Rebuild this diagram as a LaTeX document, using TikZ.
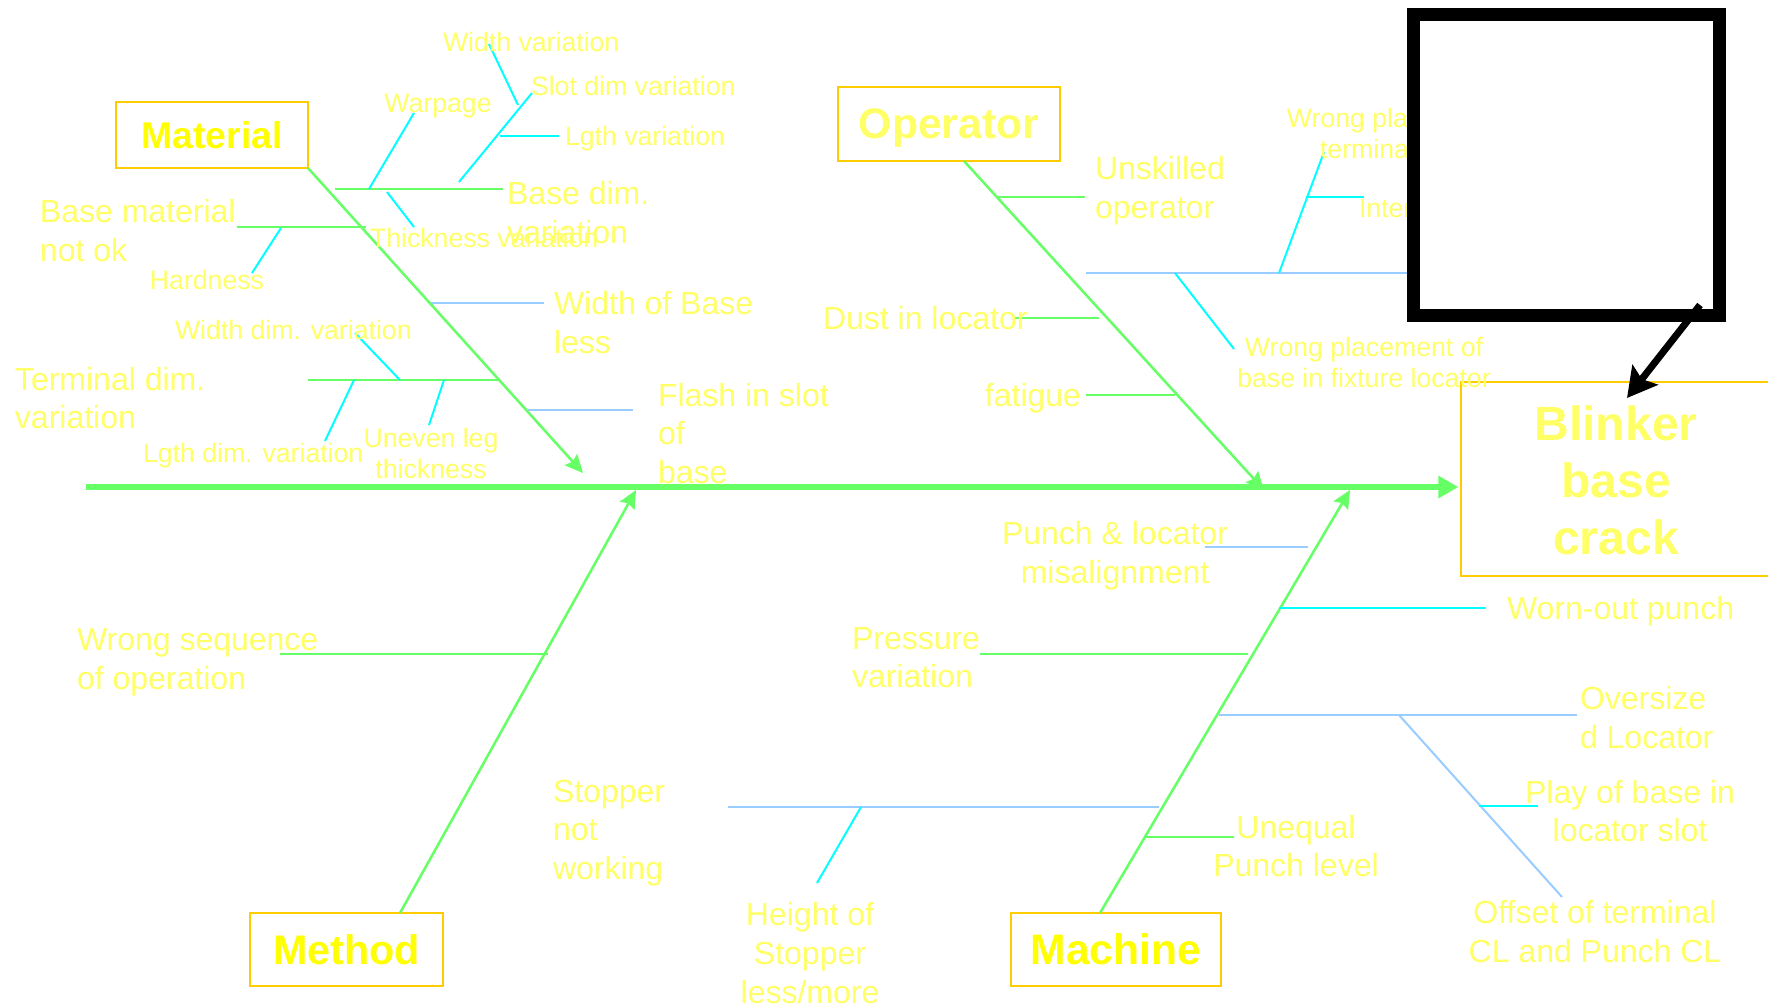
\documentclass[tikz,border=0pt]{standalone}
\usepackage{fontspec}
\setmainfont{Liberation Sans}
\usetikzlibrary{arrows.meta,calc}

\definecolor{labelyellow}{HTML}{FFFF66}
\definecolor{titleyellow}{HTML}{FFFF00}
\definecolor{frameorange}{HTML}{FFCC00}
\definecolor{bonegreen}{HTML}{66FF66}
\definecolor{subcyan}{HTML}{00FFFF}
\definecolor{paleblue}{HTML}{99CCFF}

\tikzset{
  catbox/.style={draw=frameorange, line width=1.5pt, inner sep=0pt, outer sep=0pt,
    text=titleyellow, text depth=0pt, font=\bfseries\fontsize{32}{36}\selectfont},
  effectbox/.style={draw=frameorange, line width=1.5pt, inner sep=0pt, outer sep=0pt},
  efftext/.style={text=labelyellow, align=center, inner sep=0pt,
    font=\bfseries\fontsize{36}{42.75}\selectfont},
  notebox/.style={draw=black, fill=white, line width=9.75pt, inner sep=0pt, outer sep=0pt},
  bigtxt/.style={text=labelyellow, inner sep=0pt, outer sep=0pt,
    font=\fontsize{24}{29}\selectfont},
  smalltxt/.style={text=labelyellow, inner sep=0pt, outer sep=0pt,
    font=\fontsize{20}{23.25}\selectfont},
  spine/.style={draw=bonegreen, line width=4.5pt, -{Triangle[length=15pt,width=16pt]}},
  bone/.style={draw=bonegreen, line width=1.9pt,
    -{Stealth[length=13.5pt,width=12.5pt,inset=2pt]}},
  greenrib/.style={draw=bonegreen, line width=1.5pt},
  bluerib/.style={draw=paleblue, line width=1.5pt},
  cyanrib/.style={draw=subcyan, line width=1.5pt},
  pointer/.style={draw=black, line width=5.25pt,
    -{Stealth[length=22pt,width=24pt,inset=4pt]}}
}

\begin{document}
\begin{tikzpicture}[x=0.75pt,y=-0.75pt]
\clip (0,0) rectangle (1768,1006);
\fill[white] (0,0) rectangle (1768,1006);

% ---------- category boxes and effect ----------
\node[catbox, font=\bfseries\fontsize{28}{32}\selectfont,
      minimum width=144pt, minimum height=49.5pt] (material) at (212,135) {Material};
\node[catbox, text=labelyellow, minimum width=166.5pt, minimum height=55.5pt]
      (operator) at (949,124) {Operator};
\node[catbox, font=\bfseries\fontsize{31}{35}\selectfont,
      minimum width=144.75pt, minimum height=54.75pt] (method) at (346.5,949.5) {Method};
\node[catbox, minimum width=157.5pt, minimum height=54.75pt]
      (machine) at (1116,949.5) {Machine};

\node[effectbox, minimum width=254.25pt, minimum height=145.5pt] (effect) at (1630.5,479) {};
\node[efftext] (effecttext) at (1616,480) {Blinker\\base\\crack};

% ---------- spine and main bones ----------
\coordinate (spineStart) at (86,487);
\coordinate (matTip) at (583,473);
\coordinate (opTip) at (1264,490);
\coordinate (metTip) at (636,490);
\coordinate (macTip) at (1350,490);

\draw[spine, shorten >=2pt] (spineStart) -- (spineStart -| effect.west);
\draw[bone] (material.south east) -- (matTip);
\draw[bone] ($(operator.south)+(15,0)$) -- (opTip);
\draw[bone] ($(method.north)+(53.5,0)$) -- (metTip);
\draw[bone] ($(machine.north)+(-16,0)$) -- (macTip);

% ---------- Material branch ----------
\coordinate (bdA) at (335,189);   \coordinate (bdB) at (503,189);
\coordinate (wpA) at (369,189);   \coordinate (wpB) at (414,113);
\coordinate (thA) at (387,192);   \coordinate (thB) at (414,227);
\coordinate (slA) at (459,182);   \coordinate (slB) at (532,93);
\coordinate (wvA) at (489,44);    \coordinate (wvB) at (518,105);
\coordinate (lvA) at (500,136);   \coordinate (lvB) at (559,136);
\coordinate (bmA) at (237,227);   \coordinate (bmB) at (366,227);
\coordinate (hdA) at (281,228);   \coordinate (hdB) at (252,273);
\coordinate (wbA) at (431,303);   \coordinate (wbB) at (544,303);
\coordinate (tdA) at (308,380);   \coordinate (tdB) at (500,380);
\coordinate (wdA) at (400,380);   \coordinate (wdB) at (355,333);
\coordinate (ldA) at (354,380);   \coordinate (ldB) at (325,441);
\coordinate (ulA) at (444,380);   \coordinate (ulB) at (429,425);
\coordinate (fsA) at (528,410);   \coordinate (fsB) at (633,410);

\draw[greenrib] (bdA) -- (bdB);
\draw[cyanrib] (wpA) -- (wpB);
\draw[cyanrib] (thA) -- (thB);
\draw[cyanrib] (slA) -- (slB);
\draw[cyanrib] (wvA) -- (wvB);
\draw[cyanrib] (lvA) -- (lvB);
\draw[greenrib] (bmA) -- (bmB);
\draw[cyanrib] (hdA) -- (hdB);
\draw[bluerib] (wbA) -- (wbB);
\draw[greenrib] (tdA) -- (tdB);
\draw[cyanrib] (wdA) -- (wdB);
\draw[cyanrib] (ldA) -- (ldB);
\draw[cyanrib] (ulA) -- (ulB);
\draw[bluerib] (fsA) -- (fsB);

\node[bigtxt, anchor=west, align=left] (tBaseDim) at (507,212.5) {Base dim.\\variation};
\node[smalltxt] (tWarp) at (438,106) {Warpage};
\node[smalltxt, anchor=west] (tThick) at (370,238) {Thickness variation};
\node[smalltxt, anchor=west] (tSlot) at (531,86) {Slot dim variation};
\node[smalltxt, anchor=west] (tWidthV) at (443,42) {Width variation};
\node[smalltxt, anchor=west] (tLgthV) at (565,139) {Lgth variation};
\node[bigtxt, anchor=west, align=left] (tBaseMat) at (40,230.5) {Base material\\not ok};
\node[smalltxt] (tHard) at (207,280) {Hardness};
\node[bigtxt, anchor=west, align=left] (tWidthBase) at (554,322.5) {Width of Base\\less};
\node[bigtxt, anchor=west, align=left] (tTermDim) at (15,398) {Terminal dim.\\variation};
\node[smalltxt, anchor=west] (tWidthDim) at (175,330) {Width dim. variation};
\node[smalltxt, anchor=west] (tLgthDim) at (143,456) {Lgth dim. variation};
\node[smalltxt, align=center] (tUneven) at (431,453) {Uneven leg\\thickness};
\node[bigtxt, anchor=west, align=left] (tFlash) at (658,433.5) {Flash in slot\\of\\base};

% ---------- Method branch ----------
\coordinate (wsA) at (280,654);   \coordinate (wsB) at (548,654);
\draw[greenrib] (wsA) -- (wsB);
\node[bigtxt, anchor=west, align=left] (tWrongSeq) at (77,662) {Wrong sequence\\of operation};

% ---------- Operator branch ----------
\coordinate (usA) at (998,197);   \coordinate (usB) at (1085,197);
\coordinate (duA) at (1014,318);  \coordinate (duB) at (1099,318);
\coordinate (faA) at (1086,395);  \coordinate (faB) at (1175,395);
\coordinate (plA) at (1086,273);  \coordinate (plB) at (1500,273);
\coordinate (pbA) at (1175,273);  \coordinate (pbB) at (1234,349);
\coordinate (ptA) at (1279,273);  \coordinate (ptB) at (1324,152);
\coordinate (inA) at (1306,197);  \coordinate (inB) at (1364,197);

\draw[greenrib] (usA) -- (usB);
\draw[greenrib] (duA) -- (duB);
\draw[greenrib] (faA) -- (faB);
\draw[bluerib] (plA) -- (plB);
\draw[cyanrib] (pbA) -- (pbB);
\draw[cyanrib] (ptA) -- (ptB);
\draw[cyanrib] (inA) -- (inB);

\node[bigtxt, anchor=west, align=left] (tUnskilled) at (1095,191) {Unskilled\\operator};
\node[bigtxt, anchor=west] (tDust) at (823,318) {Dust in locator};
\node[bigtxt, anchor=east] (tFatigue) at (1081,398) {fatigue};
\node[smalltxt, align=center] (tPlaceBase) at (1364,362.5) {Wrong placement of\\base in fixture locator};
\node[smalltxt, align=center] (tPlaceTerm) at (1406,133) {Wrong placement of\\terminal in slot};
\node[smalltxt, anchor=west] (tInter) at (1359,208) {Interference};

% ---------- Machine branch ----------
\coordinate (plmA) at (1205,547); \coordinate (plmB) at (1308,547);
\coordinate (woA) at (1279,608);  \coordinate (woB) at (1486,608);
\coordinate (prA) at (980,654);   \coordinate (prB) at (1248,654);
\coordinate (ovA) at (1219,715);  \coordinate (ovB) at (1577,715);
\coordinate (ofA) at (1399,715);  \coordinate (ofB) at (1562,897);
\coordinate (pyA) at (1479,806);  \coordinate (pyB) at (1538,806);
\coordinate (stA) at (728,807);   \coordinate (stB) at (1159,807);
\coordinate (hsA) at (861,807);   \coordinate (hsB) at (817,883);
\coordinate (uqA) at (1145,837);  \coordinate (uqB) at (1234,837);

\draw[bluerib] (plmA) -- (plmB);
\draw[cyanrib] (woA) -- (woB);
\draw[greenrib] (prA) -- (prB);
\draw[bluerib] (ovA) -- (ovB);
\draw[bluerib] (ofA) -- (ofB);
\draw[cyanrib] (pyA) -- (pyB);
\draw[bluerib] (stA) -- (stB);
\draw[cyanrib] (hsA) -- (hsB);
\draw[greenrib] (uqA) -- (uqB);

\node[bigtxt, align=center] (tPunchLoc) at (1115,555.5) {Punch \& locator\\misalignment};
\node[bigtxt, anchor=west] (tWorn) at (1507,611) {Worn-out punch};
\node[bigtxt, anchor=west, align=left] (tPressure) at (852,657.5) {Pressure\\variation};
\node[bigtxt, anchor=west, align=left] (tOversize) at (1580,717.5) {Oversize\\d Locator};
\node[bigtxt, align=center] (tPlay) at (1630,811) {Play of base in\\locator slot};
\node[bigtxt, align=center] (tOffset) at (1595,931.5) {Offset of terminal\\CL and Punch CL};
\node[bigtxt, anchor=west, align=left] (tStopper) at (553,833) {Stopper\\not\\working};
\node[bigtxt, align=center] (tHeight) at (810,953) {Height of\\Stopper\\less/more};
\node[bigtxt, align=center] (tUnequal) at (1296,846) {Unequal\\Punch level};

% ---------- framed call-out with pointer ----------
\node[notebox, minimum width=229.1pt, minimum height=225.75pt] (note) at (1566.25,165) {};
\draw[pointer] ($(note.south east)+(-19,-10.5)$) -- ($(effect.north west)+(166,16)$);

\end{tikzpicture}
\end{document}
